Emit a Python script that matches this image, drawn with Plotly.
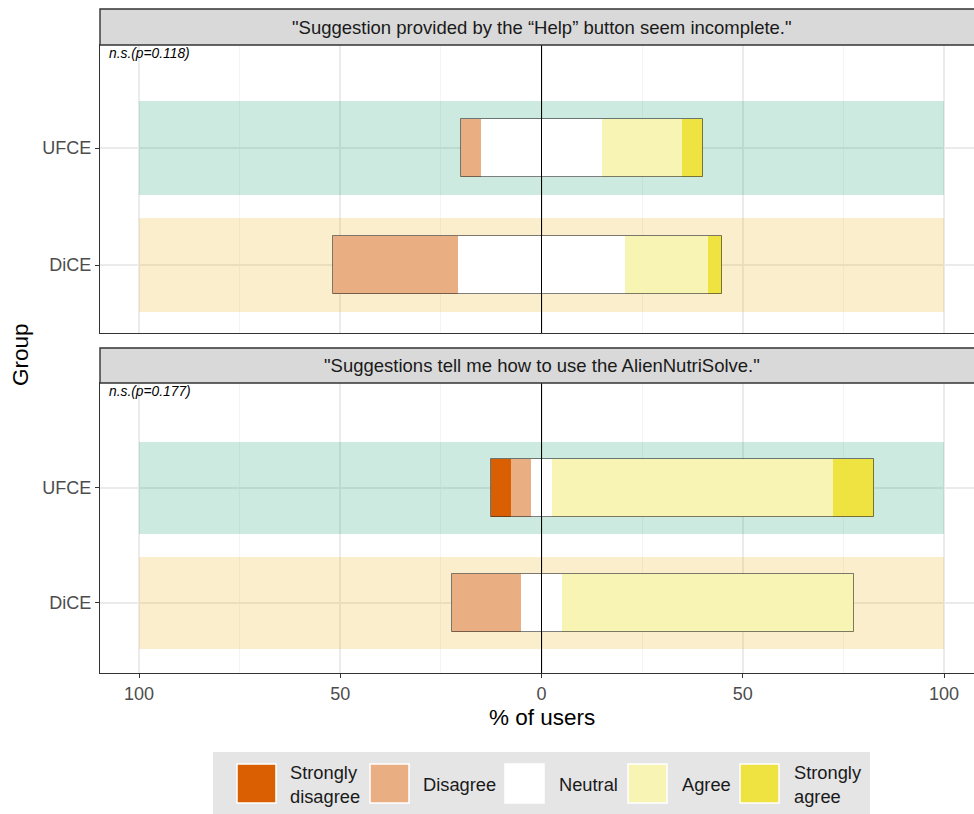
import plotly.graph_objects as go

W, H = 974, 814

groups = ["UFCE", "DiCE"]
questions = [
    '"Suggestion provided by the \u201cHelp\u201d button seem incomplete."',
    '"Suggestions tell me how to use the AlienNutriSolve."',
]
p_labels = ["n.s.(p=0.118)", "n.s.(p=0.177)"]

levels = ["Strongly disagree", "Disagree", "Neutral", "Agree", "Strongly agree"]
level_labels = ["Strongly<br>disagree", "Disagree", "Neutral", "Agree", "Strongly<br>agree"]
level_colors = ["#D95F02", "#E9AF82", "#FFFFFF", "#F7F4B4", "#EFE342"]

# % of users per group, ordered as in `groups` (UFCE, DiCE)
q1_strongly_disagree = [0.0, 0.0]
q1_disagree = [5.0, 31.0]
q1_neutral = [30.0, 41.4]
q1_agree = [20.0, 20.7]
q1_strongly_agree = [5.0, 3.4]

q2_strongly_disagree = [5.0, 0.0]
q2_disagree = [5.0, 17.2]
q2_neutral = [5.0, 10.3]
q2_agree = [70.0, 72.4]
q2_strongly_agree = [10.0, 0.0]

band_colors = {"UFCE": "rgba(27,158,119,0.22)", "DiCE": "rgba(230,171,2,0.2)"}
band_limits = [-100, 100]

x_ticks = [-100, -50, 0, 50, 100]
x_ticktext = ["100", "50", "0", "50", "100"]
x_minor = [-75, -25, 25, 75]

responses = [
    [q1_strongly_disagree, q1_disagree, q1_neutral, q1_agree, q1_strongly_agree],
    [q2_strongly_disagree, q2_disagree, q2_neutral, q2_agree, q2_strongly_agree],
]

FONT = "Liberation Sans, Arial, sans-serif"


def px_x(x):
    return x / W


def px_y(y):
    return 1 - y / H


x_left, x_right = 100, 974
panels = [  # (plot top, plot bottom, strip top, y range)
    (45, 333, 9, [-0.58, 1.88]),
    (383, 673, 348, [-0.609, 1.913]),
]
x_range = [(x_left - 541.5) / 4.025, (x_right - 541.5) / 4.025]

fig = go.Figure()
shapes = []
annotations = []

for i, (q, data) in enumerate(zip(questions, responses)):
    xa = "x" if i == 0 else "x2"
    ya = "y" if i == 0 else "y2"
    sd, d, n, a, sa = data

    # background bands for each group
    for g in groups:
        fig.add_trace(go.Bar(
            y=[g], x=[band_limits[1] - band_limits[0]], base=[band_limits[0]],
            orientation="h", width=0.8, marker=dict(color=band_colors[g], line=dict(width=0)),
            xaxis=xa, yaxis=ya, showlegend=False, hoverinfo="skip",
        ))

    # diverging segments: negatives stack leftwards from the centre of neutral
    left_sd = [-(s + dd + nn / 2) for s, dd, nn in zip(sd, d, n)]
    left_d = [-(dd + nn / 2) for dd, nn in zip(d, n)]
    left_n = [-nn / 2 for nn in n]
    left_a = [nn / 2 for nn in n]
    left_sa = [nn / 2 + aa for nn, aa in zip(n, a)]
    segs = [
        (sd, left_sd, 0), (d, left_d, 1), (n, left_n, 2), (a, left_a, 3), (sa, left_sa, 4),
    ]
    for vals, bases, k in segs:
        fig.add_trace(go.Bar(
            y=groups, x=vals, base=bases, orientation="h", width=0.5,
            marker=dict(color=level_colors[k], line=dict(width=0)),
            name=levels[k], xaxis=xa, yaxis=ya, showlegend=False,
        ))

    # outline around each full stacked bar
    totals = [s + dd + nn + aa + ss for s, dd, nn, aa, ss in zip(sd, d, n, a, sa)]
    fig.add_trace(go.Bar(
        y=groups, x=totals, base=left_sd, orientation="h", width=0.5,
        marker=dict(color="rgba(0,0,0,0)", line=dict(color="rgba(40,40,40,0.6)", width=1)),
        xaxis=xa, yaxis=ya, showlegend=False, hoverinfo="skip",
    ))

    top, bottom, strip_top, yr = panels[i]
    # vertical reference line at 0
    shapes.append(dict(type="line", xref=xa, yref=f"{ya} domain", x0=0, x1=0, y0=0, y1=1,
                       line=dict(color="black", width=1), layer="above"))
    # facet strip
    shapes.append(dict(type="rect", xref="paper", yref="paper",
                       x0=px_x(x_left), x1=1.01, y0=px_y(top), y1=px_y(strip_top),
                       fillcolor="#D9D9D9", line=dict(color="#333333", width=1.4), layer="above"))
    annotations.append(dict(text=q, xref="paper", yref="paper", x=px_x(541.5),
                            y=px_y((top + strip_top) / 2), showarrow=False,
                            font=dict(family=FONT, size=18.5, color="#1A1A1A"),
                            xanchor="center", yanchor="middle"))
    annotations.append(dict(text=f"<i>{p_labels[i]}</i>", xref="paper", yref="paper",
                            x=px_x(107), y=px_y(top + 8), showarrow=False,
                            font=dict(family=FONT, size=13.8, color="#000000"),
                            xanchor="left", yanchor="middle"))

    axis_common = dict(
        range=x_range, tickmode="array", tickvals=x_ticks, ticktext=x_ticktext,
        showgrid=True, gridcolor="#EBEBEB", gridwidth=1.6,
        minor=dict(tickmode="array", tickvals=x_minor, showgrid=True, gridcolor="#F4F4F4", gridwidth=1),
        showline=True, linecolor="#333333", linewidth=1.4, mirror=True, zeroline=False,
        domain=[px_x(x_left), 1.0],
    )
    yaxis_common = dict(
        type="category", categoryarray=["DiCE", "UFCE"], range=yr,
        showgrid=True, gridcolor="#EBEBEB", gridwidth=1.6,
        showline=True, linecolor="#333333", linewidth=1.4, zeroline=False,
        ticks="outside", ticklen=4, tickwidth=1.3, tickcolor="#333333",
        tickfont=dict(family=FONT, size=18, color="#4D4D4D"),
        domain=[px_y(bottom), px_y(top)],
    )
    if i == 0:
        fig.update_layout(
            xaxis=dict(**axis_common, showticklabels=False, ticks="", anchor="y", matches="x2"),
            yaxis=dict(**yaxis_common, anchor="x"),
        )
    else:
        fig.update_layout(
            xaxis2=dict(**axis_common, showticklabels=True, ticks="outside", ticklen=4,
                        tickwidth=1.3, tickcolor="#333333",
                        tickfont=dict(family=FONT, size=18, color="#4D4D4D"),
                        anchor="y2"),
            yaxis2=dict(**yaxis_common, anchor="x2"),
        )

# axis titles
annotations.append(dict(text="% of users", xref="paper", yref="paper", x=px_x(541.5), y=px_y(717),
                        showarrow=False, font=dict(family=FONT, size=22.5, color="#000000"),
                        xanchor="center", yanchor="middle"))
annotations.append(dict(text="Group", xref="paper", yref="paper", x=px_x(20), y=px_y(355),
                        showarrow=False, textangle=-90,
                        font=dict(family=FONT, size=22.5, color="#000000"),
                        xanchor="center", yanchor="middle"))

# legend box with keys
shapes.append(dict(type="rect", xref="paper", yref="paper", x0=px_x(213), x1=px_x(870),
                   y0=px_y(814), y1=px_y(752), fillcolor="#E5E5E5", line=dict(width=0)))
key_left = [237, 370, 505, 628, 740]
label_left = [288, 421, 557, 680, 792]
for k in range(len(levels)):
    shapes.append(dict(type="rect", xref="paper", yref="paper",
                       x0=px_x(key_left[k]), x1=px_x(key_left[k] + 39),
                       y0=px_y(803), y1=px_y(764),
                       fillcolor=level_colors[k], line=dict(color="#FFFFFF", width=1.5)))
    annotations.append(dict(text=level_labels[k], xref="paper", yref="paper",
                            x=px_x(label_left[k]), y=px_y(784), showarrow=False, align="left",
                            font=dict(family=FONT, size=18.3, color="#1A1A1A"),
                            xanchor="left", yanchor="middle"))

fig.update_layout(
    width=W, height=H, margin=dict(l=0, r=0, t=0, b=0),
    barmode="overlay", bargap=0,
    plot_bgcolor="white", paper_bgcolor="white",
    font=dict(family=FONT),
    shapes=shapes, annotations=annotations, showlegend=False,
)

fig.write_html("out.html")
